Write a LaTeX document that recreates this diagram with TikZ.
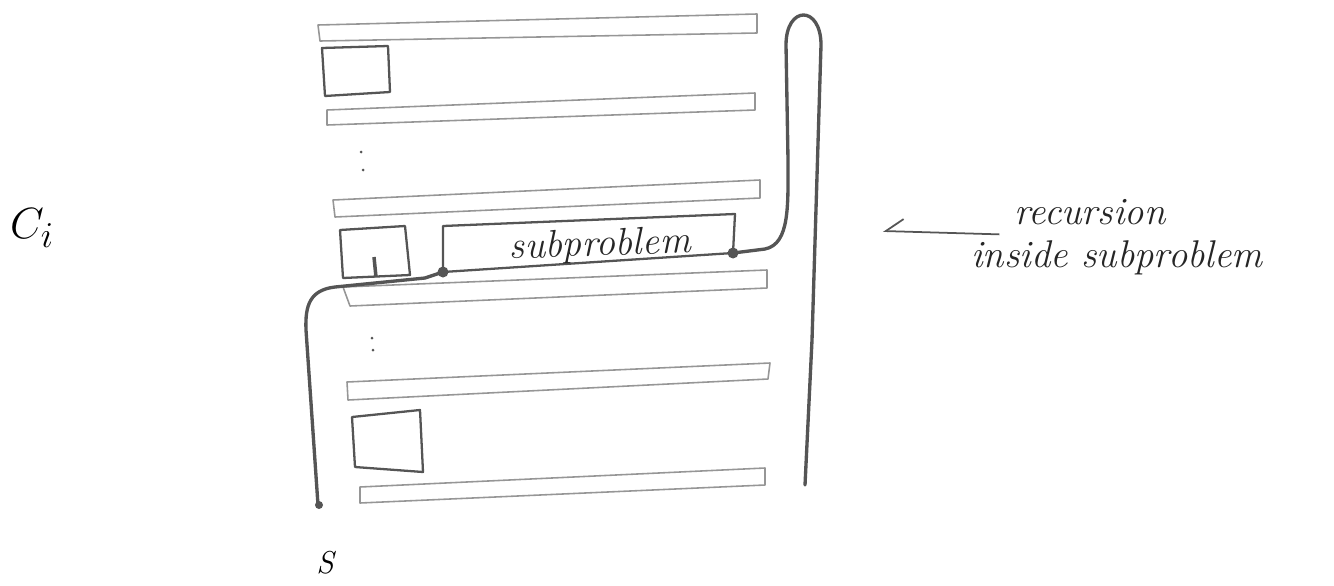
\documentclass[tikz,border=0pt]{standalone}
\usepackage{tikz}
\usetikzlibrary{arrows.meta}
\definecolor{Pencil}{RGB}{85,85,85}
\definecolor{LightPencil}{RGB}{150,150,150}
\tikzset{
  stripline/.style={draw=LightPencil, line width=0.9pt, line join=round},
  boxline/.style={draw=Pencil, line width=1.3pt, line join=round},
  loopline/.style={draw=Pencil, line width=1.9pt, line cap=round, line join=round},
  enddot/.style={circle, fill=Pencil, inner sep=0pt, minimum size=0.22cm},
  handtext/.style={font=\fontsize{22}{24}\selectfont\itshape, text=black!85, inner sep=0pt},
  recarrow/.style={-{Straight Barb[right, length=0.35cm, width=0.5cm]}, line width=1pt, draw=Pencil},
}

\begin{document}
\begin{tikzpicture}[x=0.02cm, y=-0.02cm]
  \useasboundingbox (0,0) rectangle (1334,585);

  % strips
  \draw[stripline] (318,25) -- (757,14) -- (757,33) -- (320,41) -- cycle;
  \draw[stripline] (327,110) -- (755,93) -- (755,110) -- (327,125) -- cycle;
  \draw[stripline] (333,200) -- (760,180) -- (760,198) -- (335,217) -- cycle;
  \draw[stripline] (343,287) -- (767,270) -- (767,288) -- (350,306) -- cycle;
  \draw[stripline] (347,382) -- (770,363) -- (768,379) -- (348,400) -- cycle;
  \draw[stripline] (360,487) -- (765,468) -- (765,485) -- (360,503) -- cycle;

  % small boxes
  \draw[boxline] (322,48) -- (388,46) -- (390,92) -- (325,96) -- cycle;
  \draw[boxline] (340,230) -- (405,226) -- (410,275) -- (343,278) -- cycle;
  \draw[boxline, line width=2pt] (374,257) -- (376,277);
  \draw[boxline] (352,417) -- (420,410) -- (423,472) -- (355,467) -- cycle;

  % subproblem
  \coordinate (subL) at (443,272);
  \coordinate (subR) at (733,253);
  \draw[boxline] (subL) -- (443,226) -- (735,214) -- (subR) -- cycle;
  \node[handtext, rotate=2] (subLbl) at (600,246) {subproblem};

  % recursion loops
  \draw[loopline] (subR) -- (765,249) .. controls (790,244) and (788,205) .. (788,160)
    -- (786,45) .. controls (786,5) and (821,5) .. (821,45) -- (812,340) -- (805,485);
  \draw[loopline] (subL) -- (425,278) -- (335,287) .. controls (310,290) and (305,305) .. (306,330)
    -- (318,505);
  \node[enddot] (dotL) at (subL) {};
  \node[enddot] (dotR) at (subR) {};
  \node[enddot, minimum size=0.16cm] (dotEnd) at (319,505) {};

  % dots
  \fill[Pencil] (361,152) circle (1.5) (363,170) circle (1.5);
  \fill[Pencil] (372,338) circle (1.5) (373,350) circle (1.5);

  % labels
  \node[font=\fontsize{32}{32}\selectfont] (ci) at (32,228) {$C_i$};
  \node[handtext] (recLbl) at (1090,212) {recursion};
  \node[handtext] (insLbl) at (1117,258) {inside subproblem};
  \node[font=\fontsize{18}{18}\selectfont\itshape] (sLbl) at (325,563) {S};
  \coordinate (arrTip) at (883,231);
  \draw[recarrow] ([xshift=-0.3cm, yshift=-0.2cm]recLbl.base west) -- (arrTip);
\end{tikzpicture}
\end{document}
